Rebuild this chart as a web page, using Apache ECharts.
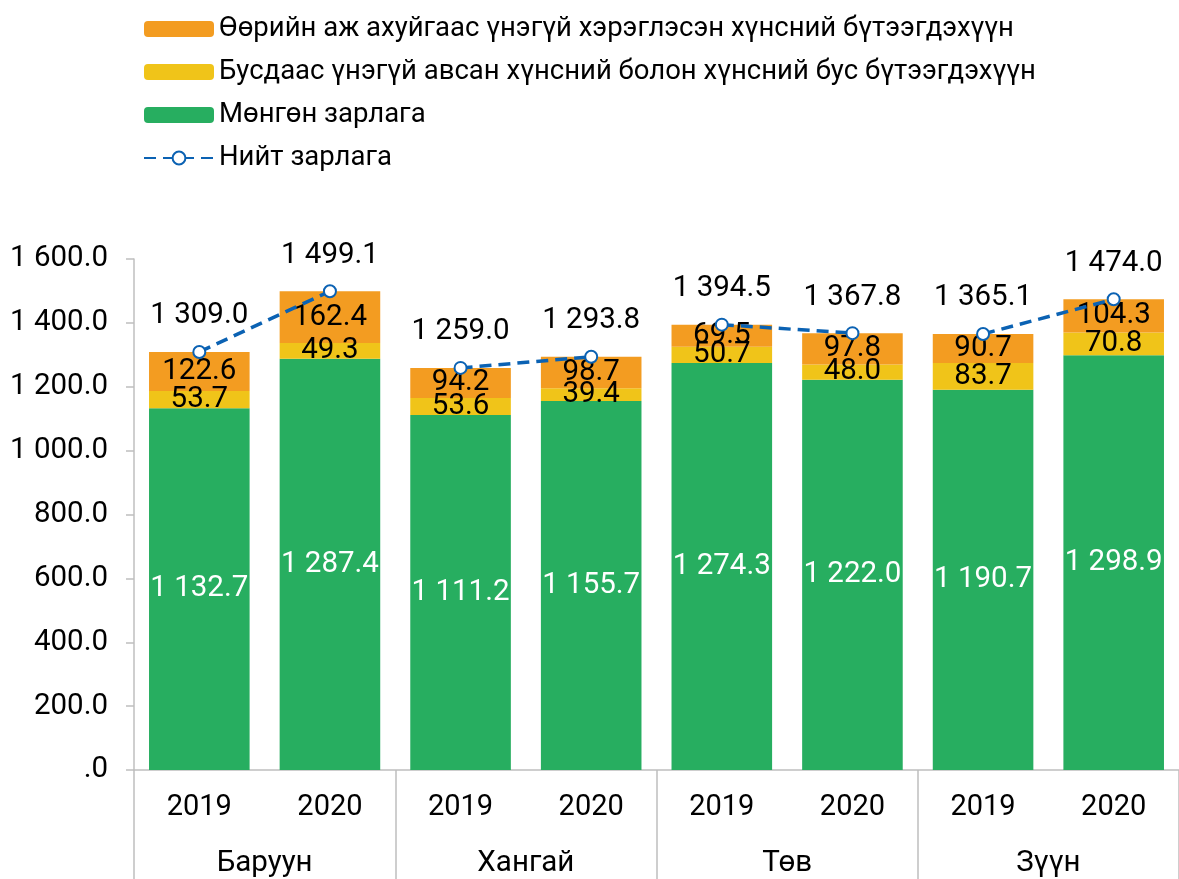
<!DOCTYPE html>
<html>
<head>
<meta charset="utf-8">
<script src="https://cdn.jsdelivr.net/npm/echarts@6/dist/echarts.min.js"></script>
<style>
  html, body { margin: 0; padding: 0; background: #fff; }
  #chart { width: 1179px; height: 879px; }
</style>
</head>
<body>
<div id="chart"></div>
<script>
// 数据
var years = ['2019', '2020', '2019', '2020', '2019', '2020', '2019', '2020'];
var regions = ['Баруун', 'Хангай', 'Төв', 'Зүүн'];

var cashSpend = [1132.7, 1287.4, 1111.2, 1155.7, 1274.3, 1222.0, 1190.7, 1298.9];
var freeReceived = [53.7, 49.3, 53.6, 39.4, 50.7, 48.0, 83.7, 70.8];
var ownProduce = [122.6, 162.4, 94.2, 98.7, 69.5, 97.8, 90.7, 104.3];
var totalSpend = [1309.0, 1499.1, 1259.0, 1293.8, 1394.5, 1367.8, 1365.1, 1474.0];

var names = [
    'Өөрийн аж ахуйгаас үнэгүй хэрэглэсэн хүнсний бүтээгдэхүүн',
    'Бусдаас үнэгүй авсан хүнсний болон хүнсний бус бүтээгдэхүүн',
    'Мөнгөн зарлага',
    'Нийт зарлага'
];

// 1 234.5 格式
function fmt(v) {
    if (v === 0) return '.0';
    var s = v.toFixed(1).split('.');
    return s[0].replace(/\B(?=(\d{3})+(?!\d))/g, ' ') + '.' + s[1];
}

var font = 'Roboto';
var gray = '#bfbfbf';
var blue = '#0b62b3';

var myChart = echarts.init(document.getElementById('chart'));

var barLabel = function (color) {
    return {
        show: true,
        position: 'inside',
        color: color,
        fontFamily: font,
        fontSize: 29.5,
        formatter: function (p) { return fmt(p.value); }
    };
};

// 总计折线：每个地区单独一段（2019-2020）
var lineSeries = regions.map(function (r, g) {
    var d = totalSpend.map(function (v, i) {
        return Math.floor(i / 2) === g ? v : '-';
    });
    return {
        name: names[3],
        type: 'line',
        symbol: 'emptyCircle',
        symbolSize: 12,
        itemStyle: { color: blue, borderWidth: 2.5 },
        lineStyle: { color: blue, width: 3.5, type: [12, 7] },
        label: {
            show: true,
            position: 'top',
            distance: 14,
            color: '#000',
            fontSize: 29.5,
            fontFamily: font,
            formatter: function (p) { return fmt(p.value); }
        },
        z: 5,
        data: d
    };
});

var option = {
    animation: false,
    textStyle: { fontFamily: font },
    legend: {
        orient: 'vertical',
        left: 138,
        top: 9,
        itemWidth: 70,
        itemHeight: 16,
        itemGap: 13,
        textStyle: { fontSize: 27.5, color: '#000', lineHeight: 30, fontFamily: font },
        data: [names[0], names[1], names[2], names[3]]
    },
    grid: { left: 134, top: 259, width: 1056, height: 511 },
    xAxis: [
        {
            type: 'category',
            data: years,
            axisLine: { show: true, lineStyle: { color: gray, width: 1.5 } },
            axisTick: { show: false },
            axisLabel: { color: '#000', fontSize: 29, margin: 23, fontFamily: font }
        },
        {
            type: 'category',
            data: regions,
            position: 'bottom',
            axisLine: { show: false },
            axisTick: { show: true, length: 110, lineStyle: { color: gray, width: 1.5 } },
            axisLabel: { color: '#000', fontSize: 29.5, margin: 79, fontFamily: font }
        }
    ],
    yAxis: {
        type: 'value',
        min: 0,
        max: 1600,
        interval: 200,
        splitLine: { show: false },
        axisLine: { show: true, lineStyle: { color: gray, width: 1.5 } },
        axisTick: { show: true, length: 8, lineStyle: { color: gray, width: 1.5 } },
        axisLabel: {
            color: '#000',
            fontSize: 29.5,
            margin: 26,
            fontFamily: font,
            formatter: fmt
        }
    },
    series: [
        {
            name: names[2],
            type: 'bar',
            stack: 'total',
            barCategoryGap: '23%',
            itemStyle: { color: '#27ae60' },
            label: barLabel('#fff'),
            data: cashSpend
        },
        {
            name: names[1],
            type: 'bar',
            stack: 'total',
            itemStyle: { color: '#f0c419' },
            label: barLabel('#000'),
            data: freeReceived
        },
        {
            name: names[0],
            type: 'bar',
            stack: 'total',
            itemStyle: { color: '#f39c21' },
            label: barLabel('#000'),
            data: ownProduce
        }
    ].concat(lineSeries)
};

myChart.setOption(option);
</script>
</body>
</html>
